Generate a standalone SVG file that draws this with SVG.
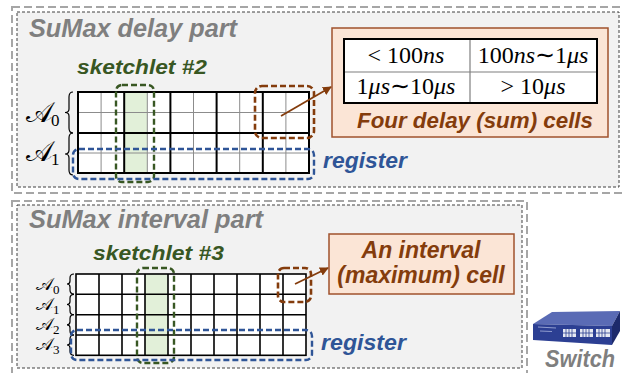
<svg xmlns="http://www.w3.org/2000/svg" width="622" height="373" viewBox="0 0 622 373">
<defs>
<marker id="ah" viewBox="0 0 10 10" refX="9" refY="5" markerWidth="5" markerHeight="5" orient="auto">
<path d="M0,0 L10,5 L0,10 Z" fill="#843c0c"/>
</marker>
<style>
.outer{fill:none;stroke:#a6a6a6;stroke-width:2;stroke-dasharray:8 4}
.inner{fill:#f2f2f2;stroke:#404040;stroke-width:1;stroke-dasharray:3 2}
.title{font-family:"Liberation Sans",Arial,sans-serif;font-weight:bold;font-style:italic;fill:#7f7f7f}
.sk{font-family:"Liberation Sans",Arial,sans-serif;font-weight:bold;font-style:italic;fill:#385723}
.reg{font-family:"Liberation Sans",Arial,sans-serif;font-weight:bold;font-style:italic;fill:#2f5597}
.br{font-family:"Liberation Sans",Arial,sans-serif;font-weight:bold;font-style:italic;fill:#843c0c}
.thin{stroke:#8c8c8c;stroke-width:1}
.thick{stroke:#000;stroke-width:2}
.cell{fill:#fff}
.green{fill:#e2f0d9}
.gdash{fill:none;stroke:#385723;stroke-width:2.4;stroke-dasharray:6 3}
.bdash{fill:none;stroke:#2f5597;stroke-width:2.4;stroke-dasharray:6 3}
.odash{fill:none;stroke:#843c0c;stroke-width:2.6;stroke-dasharray:6 3}
.callout{fill:#fbe5d6;stroke:#a0522d;stroke-width:1.5}
.brace{fill:none;stroke:#000;stroke-width:1.2}
.math{font-family:"Liberation Serif","Times New Roman",serif;fill:#000}
.scr{font-family:"DejaVu Serif","DejaVu Sans","Noto Sans",serif;fill:#000}
.arrow{stroke:#843c0c;stroke-width:1.8;fill:none;marker-end:url(#ah)}
</style>
</defs>

<g id="delay-part">
<rect class="outer" x="12" y="7" width="620" height="186"/>
<rect class="inner" x="17" y="12" width="602" height="175"/>
<text class="title" x="29" y="37" font-size="25" textLength="208" lengthAdjust="spacingAndGlyphs">SuMax delay part</text>
</g>

<g id="delay-grid">
<rect class="cell" x="78" y="92" width="231" height="81"/>
<rect class="green" x="124.2" y="92" width="23.1" height="81"/>
<g class="thin">
<line x1="78" y1="112.5" x2="309" y2="112.5"/>
<line x1="78" y1="153" x2="309" y2="153"/>
<line x1="101.1" y1="92" x2="101.1" y2="173"/>
<line x1="147.3" y1="92" x2="147.3" y2="173"/>
<line x1="193.5" y1="92" x2="193.5" y2="173"/>
<line x1="239.7" y1="92" x2="239.7" y2="173"/>
<line x1="285.9" y1="92" x2="285.9" y2="173"/>
</g>
<g class="thick">
<line x1="78" y1="133" x2="309" y2="133"/>
<line x1="124.2" y1="92" x2="124.2" y2="173"/>
<line x1="170.4" y1="92" x2="170.4" y2="173"/>
<line x1="216.6" y1="92" x2="216.6" y2="173"/>
<line x1="262.8" y1="92" x2="262.8" y2="173"/>
<rect x="78" y="92" width="231" height="81" fill="none"/>
</g>
</g>

<g id="delay-labels">
<path class="brace" d="M73,92 Q69,92 69,97 L69,109 Q69,112.5 65,112.5 Q69,112.5 69,116 L69,128 Q69,133 73,133"/>
<path class="brace" d="M73,133 Q69,133 69,138 L69,150 Q69,154 65,154 Q69,154 69,158 L69,170 Q69,175 73,175"/>
<text class="scr" x="26" y="122" font-size="28">𝒜</text>
<text class="math" x="51" y="126" font-size="17">0</text>
<text class="scr" x="26" y="161" font-size="28">𝒜</text>
<text class="math" x="51" y="165" font-size="17">1</text>
</g>

<g id="sketchlet2">
<rect class="gdash" x="116" y="85" width="38" height="97" rx="6"/>
<text class="sk" x="77" y="74" font-size="21" textLength="130" lengthAdjust="spacingAndGlyphs">sketchlet #2</text>
</g>

<g id="register1">
<rect class="bdash" x="73" y="149" width="241" height="30" rx="6"/>
<text class="reg" x="323" y="168" font-size="22" textLength="84" lengthAdjust="spacingAndGlyphs">register</text>
</g>

<g id="delay-cells">
<rect class="odash" x="255" y="86" width="59" height="52" rx="7"/>
</g>

<g id="delay-callout">
<rect class="callout" x="332" y="28" width="276" height="109"/>
<rect x="344" y="39" width="253" height="64" fill="#fff"/>
<line x1="470" y1="39" x2="470" y2="103" stroke="#7f7f7f" stroke-width="1.2"/>
<line x1="344" y1="72" x2="597" y2="72" stroke="#7f7f7f" stroke-width="1.2"/>
<rect x="344" y="39" width="253" height="64" fill="none" stroke="#000" stroke-width="2"/>
<text class="math" x="406" y="63" font-size="24" text-anchor="middle">&lt; 100<tspan font-style="italic">ns</tspan></text>
<text class="math" x="533" y="63" font-size="24" text-anchor="middle">100<tspan font-style="italic">ns</tspan>∼1<tspan font-style="italic">μs</tspan></text>
<text class="math" x="406" y="94" font-size="24" text-anchor="middle">1<tspan font-style="italic">μs</tspan>∼10<tspan font-style="italic">μs</tspan></text>
<text class="math" x="533" y="94" font-size="24" text-anchor="middle">&gt; 10<tspan font-style="italic">μs</tspan></text>
<text class="br" x="357" y="128" font-size="22" textLength="236" lengthAdjust="spacingAndGlyphs">Four delay (sum) cells</text>
</g>

<g id="interval-part">
<rect class="outer" x="12" y="201" width="515" height="178"/>
<rect class="inner" x="17" y="205" width="505" height="163"/>
<text class="title" x="29" y="228" font-size="25" textLength="234" lengthAdjust="spacingAndGlyphs">SuMax interval part</text>
</g>

<g id="interval-grid">
<rect class="cell" x="76" y="274" width="230" height="81.3"/>
<rect class="green" x="145" y="274" width="23" height="81.3"/>
<g stroke="#000" stroke-width="1.6">
<line x1="76" y1="294.3" x2="306" y2="294.3"/>
<line x1="76" y1="314.7" x2="306" y2="314.7"/>
<line x1="76" y1="335" x2="306" y2="335"/>
<line x1="99" y1="274" x2="99" y2="355.3"/>
<line x1="122" y1="274" x2="122" y2="355.3"/>
<line x1="145" y1="274" x2="145" y2="355.3"/>
<line x1="168" y1="274" x2="168" y2="355.3"/>
<line x1="191" y1="274" x2="191" y2="355.3"/>
<line x1="214" y1="274" x2="214" y2="355.3"/>
<line x1="237" y1="274" x2="237" y2="355.3"/>
<line x1="260" y1="274" x2="260" y2="355.3"/>
<line x1="283" y1="274" x2="283" y2="355.3"/>
<rect x="76" y="274" width="230" height="81.3" fill="none"/>
</g>
</g>

<g id="interval-labels">
<path class="brace" d="M74,274 Q70,274 70,278 L70,281 Q70,284 67,284 Q70,284 70,287 L70,290 Q70,294 74,294"/>
<path class="brace" d="M74,294.3 Q70,294.3 70,298.3 L70,301.5 Q70,304.5 67,304.5 Q70,304.5 70,307.5 L70,310.7 Q70,314.7 74,314.7"/>
<path class="brace" d="M74,314.7 Q70,314.7 70,318.7 L70,321.8 Q70,324.8 67,324.8 Q70,324.8 70,327.8 L70,331 Q70,335 74,335"/>
<path class="brace" d="M74,335 Q70,335 70,339 L70,342 Q70,345 67,345 Q70,345 70,348 L70,351.3 Q70,355.3 74,355.3"/>
<text class="scr" x="36" y="290" font-size="18">𝒜</text>
<text class="math" x="53" y="294" font-size="13">0</text>
<text class="scr" x="36" y="310" font-size="18">𝒜</text>
<text class="math" x="53" y="314" font-size="13">1</text>
<text class="scr" x="36" y="330" font-size="18">𝒜</text>
<text class="math" x="53" y="334" font-size="13">2</text>
<text class="scr" x="36" y="350" font-size="18">𝒜</text>
<text class="math" x="53" y="354" font-size="13">3</text>
</g>

<g id="sketchlet3">
<rect class="gdash" x="137" y="268" width="37" height="95" rx="6"/>
<text class="sk" x="93" y="260" font-size="21" textLength="131" lengthAdjust="spacingAndGlyphs">sketchlet #3</text>
</g>

<g id="register2">
<rect class="bdash" x="71" y="330" width="241" height="30" rx="6"/>
<text class="reg" x="321" y="350" font-size="22" textLength="85" lengthAdjust="spacingAndGlyphs">register</text>
</g>

<g id="interval-cell">
<rect class="odash" x="278" y="268" width="33" height="34" rx="6"/>
</g>

<g id="interval-callout">
<rect class="callout" x="329" y="234" width="185" height="60"/>
<text class="br" x="421" y="258" font-size="23" text-anchor="middle">An interval</text>
<text class="br" x="421" y="283" font-size="23" text-anchor="middle">(maximum) cell</text>
</g>

<g id="switch">
<path d="M533,324 L552,312 L620,311 L612,326 Z" fill="#5a6bb5"/>
<path d="M533,324 L612,326 L612,345 L533,340 Z" fill="#2c3f93"/>
<path d="M612,326 L620,311 L620,331 L612,345 Z" fill="#1d2a6b"/>
<g fill="#e6e9f2">
<rect x="563" y="329" width="13" height="8"/>
<rect x="580" y="329" width="13" height="8"/>
<rect x="596" y="329" width="14" height="8"/>
</g>
<g stroke="#2c3f93" stroke-width="0.8">
<line x1="566" y1="329" x2="566" y2="337"/><line x1="569" y1="329" x2="569" y2="337"/><line x1="572" y1="329" x2="572" y2="337"/>
<line x1="583" y1="329" x2="583" y2="337"/><line x1="586" y1="329" x2="586" y2="337"/><line x1="589" y1="329" x2="589" y2="337"/>
<line x1="599" y1="329" x2="599" y2="337"/><line x1="602" y1="329" x2="602" y2="337"/><line x1="605" y1="329" x2="605" y2="337"/>
<line x1="563" y1="333" x2="610" y2="333"/>
</g>
<g stroke="#aab4dd" stroke-width="0.8">
<line x1="538" y1="327" x2="556" y2="328"/>
<line x1="540" y1="331" x2="552" y2="331.5"/>
</g>
<text class="title" x="545" y="367" font-size="23" textLength="70" lengthAdjust="spacingAndGlyphs">Switch</text>
</g>

<g id="connectors">
<line class="arrow" x1="281" y1="116" x2="331" y2="87"/>
<line class="arrow" x1="295" y1="284" x2="328" y2="268"/>
</g>
</svg>
